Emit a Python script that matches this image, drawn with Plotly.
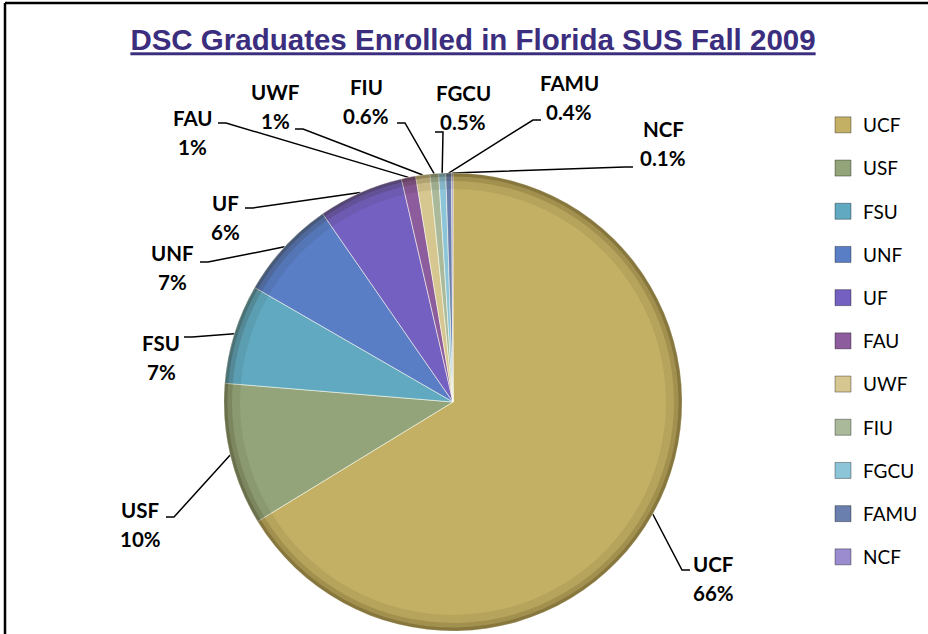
import math
import plotly.graph_objects as go

schools = ["UCF", "USF", "FSU", "UNF", "UF", "FAU", "UWF", "FIU", "FGCU", "FAMU", "NCF"]
shares = [66, 10, 7, 7, 6, 1, 1, 0.6, 0.5, 0.4, 0.1]
colors = ["#c3b064", "#93a47a", "#60a9c0", "#5a7ec6", "#7460c0", "#8c5c9c",
          "#d6c690", "#a9b99a", "#8cc4d8", "#6a7fae", "#9a8cce"]

W, H = 928, 634
cx, cy, r = 453, 402, 229

# label placement (pixel coords), and where each leader line meets its label
label_xy = {"UCF": (713, 578), "USF": (140, 524), "FSU": (161, 357), "UNF": (172, 267),
            "UF": (225, 217), "FAU": (192, 132), "UWF": (275, 106), "FIU": (366, 101),
            "FGCU": (463, 107), "FAMU": (569, 97), "NCF": (663, 143)}
hook_xy = {"UCF": (690, 570), "USF": (166, 517), "FSU": (184, 337), "UNF": (200, 262),
           "UF": (245, 208), "FAU": (218, 123), "UWF": (295, 129), "FIU": (397, 123),
           "FGCU": (435, 132), "FAMU": (541, 120), "NCF": (633, 167)}

total = sum(shares)


def pct(v):
    return f"{v:.0f}%" if v >= 1 else f"{v:.1f}%"


fig = go.Figure()

# leader lines: label hook -> short horizontal elbow -> slice edge at mid angle
lx, ly = [], []
cum = 0
for s, v in zip(schools, shares):
    a = 2 * math.pi * (cum + v / 2) / total
    cum += v
    tx, ty = cx + r * math.sin(a), cy - r * math.cos(a)
    hx, hy = hook_xy[s]
    step = 8 if tx > hx else -8
    lx += [hx, hx + step, tx, None]
    ly += [hy, hy, ty, None]

fig.add_trace(go.Scatter(x=lx, y=ly, mode="lines", line=dict(color="black", width=1.5),
                         hoverinfo="skip", showlegend=False))

dom = dict(x=[(cx - r) / W, (cx + r) / W], y=[1 - (cy + r) / H, 1 - (cy - r) / H])

fig.add_trace(go.Pie(
    labels=schools, values=shares, sort=False, direction="clockwise", rotation=0,
    marker=dict(colors=colors, line=dict(color="rgba(255,255,240,0.55)", width=1)),
    textinfo="none", showlegend=False, domain=dom,
))
# soft dark rim for the bevelled look
for hole, alpha in [(0.93, 0.08), (0.965, 0.14), (0.985, 0.22)]:
    fig.add_trace(go.Pie(
        labels=schools, values=shares, sort=False, direction="clockwise", rotation=0,
        hole=hole, marker=dict(colors=[f"rgba(40,30,0,{alpha})"] * len(schools),
                               line=dict(width=0)),
        textinfo="none", showlegend=False, hoverinfo="skip", domain=dom,
    ))

# legend entries
for s, c in zip(schools, colors):
    fig.add_trace(go.Scatter(x=[None], y=[None], mode="markers", name=s, legendgroup=s,
                             marker=dict(symbol="square", size=16, color=c,
                                         line=dict(color="rgba(0,0,0,0.35)", width=1))))

for s, v in zip(schools, shares):
    x, y = label_xy[s]
    for txt, dy in [(s, -14.5), (pct(v), 14.5)]:
        fig.add_annotation(x=x, y=y + dy, xref="x", yref="y", showarrow=False,
                           text=f"<b>{txt}</b>",
                           font=dict(family="Lato", size=20.5, color="black"))

fig.add_shape(type="line", x0=5, x1=5, y0=3, y1=H + 5, xref="x", yref="y",
              line=dict(color="black", width=2.5))
fig.add_shape(type="line", x0=5, x1=W + 5, y0=3, y1=3, xref="x", yref="y",
              line=dict(color="black", width=2.5))

fig.update_layout(
    width=W, height=H,
    margin=dict(l=0, r=0, t=0, b=0),
    paper_bgcolor="white", plot_bgcolor="white",
    xaxis=dict(range=[0, W], visible=False, fixedrange=True),
    yaxis=dict(range=[H, 0], visible=False, fixedrange=True),
    title=dict(text="<b><u>DSC Graduates Enrolled in Florida SUS Fall 2009</u></b>",
               x=473 / W, xanchor="center", y=1 - 40 / H, yanchor="middle",
               font=dict(family="Liberation Sans", size=29.5, color="#3b2e7e")),
    legend=dict(x=823 / W, y=1 - 106 / H, xanchor="left", yanchor="top",
                font=dict(family="Lato", size=19, color="black"),
                tracegroupgap=15.5, bgcolor="rgba(0,0,0,0)"),
    showlegend=True,
)

fig.write_html("out.html", config={"displayModeBar": False},
               post_script="document.body.style.margin='0px';")
